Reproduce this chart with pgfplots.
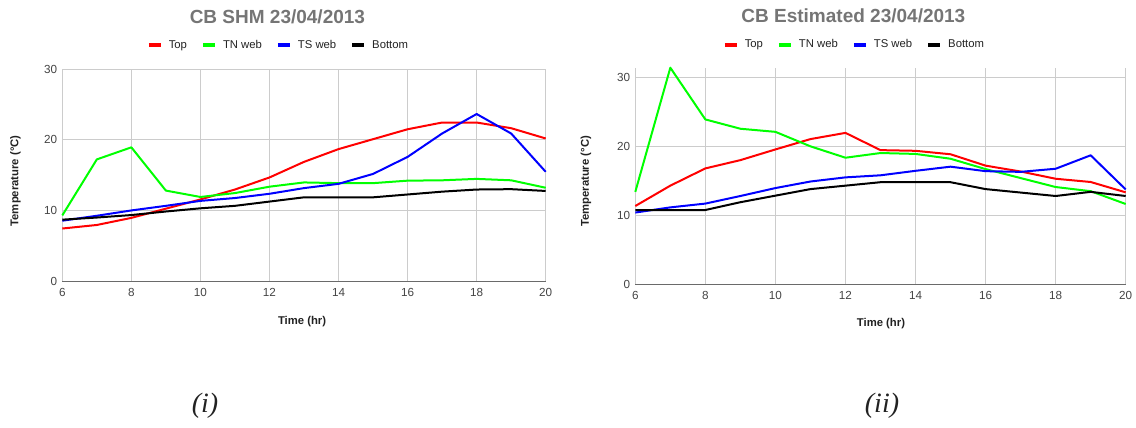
\documentclass[border=0pt]{standalone}
\usepackage{pgfplots}
\pgfplotsset{compat=1.18}
\usepackage{fontspec}
\setmainfont{Liberation Sans}
\newfontfamily\capfont{Liberation Serif}
\definecolor{titlegray}{HTML}{757575}
\definecolor{labgray}{HTML}{444444}
\definecolor{gridgray}{HTML}{CCCCCC}
\definecolor{axgray}{HTML}{6A6A6A}
\definecolor{txt}{HTML}{222222}
\definecolor{cred}{HTML}{FF0000}
\definecolor{cgreen}{HTML}{00FF00}
\definecolor{cblue}{HTML}{0000FF}
\definecolor{cblack}{HTML}{000000}

\pgfplotsset{
  gchart/.style={
    scale only axis,
    anchor=south west,
    clip=false,
    xmin=6, xmax=20, ymin=0,
    xtick={6,8,...,20}, ytick={0,10,20,30},
    grid=major,
    major grid style={draw=gridgray, line width=0.9pt},
    axis line style={draw=none},
    tick style={draw=none},
    extra y ticks={0}, extra y tick labels={},
    extra y tick style={major grid style={draw=axgray, line width=1.4pt}},
    /pgf/number format/assume math mode=true,
    tick label style={font=\fontsize{11.7}{13}\selectfont, text=labgray, inner sep=0pt},
    yticklabel style={anchor=east, xshift=-5pt},
    xticklabel style={anchor=center, yshift=-11pt},
    title style={font=\bfseries\fontsize{19}{22}\selectfont, text=titlegray, anchor=center},
    label style={font=\bfseries\fontsize{11.3}{13}\selectfont, text=txt},
    xlabel={Time (hr)}, ylabel={Temperature (°C)},
    legend columns=4,
    legend style={draw=none, fill=none, anchor=center,
      font=\fontsize{11.3}{13}\selectfont, text=txt,
      nodes={inner sep=0pt},
      /tikz/every odd column/.append style={column sep=6pt},
      /tikz/every even column/.append style={column sep=14pt}},
    legend image code/.code={\draw[#1, line width=4pt] (0pt,0pt) -- (12pt,0pt);},
    every axis plot/.append style={line width=2pt, line join=round, mark=none},
  }
}

\begin{document}
\begin{tikzpicture}
\path[use as bounding box] (0,0) rectangle (1136pt,428pt);

% (i) CB SHM
\begin{axis}[gchart,
  at={(62.3pt,146.3pt)}, width=483.4pt, height=212.7pt,
  ymax=30,
  title={CB SHM 23/04/2013},
  title style={at={(axis description cs:0.445,1.2163)}},
  legend style={at={(axis description cs:0.445,1.1125)}},
  ylabel style={at={(axis description cs:-0.097,0.474)}, anchor=center},
  xlabel style={at={(axis description cs:0.496,-0.186)}, anchor=center},
]
\addplot[cred] coordinates {(6,7.5) (7,8.0) (8,9.0) (9,10.3) (10,11.6) (11,13.0) (12,14.7) (13,16.9) (14,18.7) (15,20.1) (16,21.5) (17,22.45) (18,22.45) (19,21.65) (20,20.2)};
\addlegendentry{Top}
\addplot[cgreen] coordinates {(6,9.35) (7,17.25) (8,18.95) (9,12.85) (10,11.95) (11,12.5) (12,13.4) (13,14.0) (14,13.9) (15,13.9) (16,14.25) (17,14.3) (18,14.5) (19,14.3) (20,13.25)};
\addlegendentry{TN web}
\addplot[cblue] coordinates {(6,8.6) (7,9.3) (8,10.05) (9,10.7) (10,11.4) (11,11.8) (12,12.4) (13,13.2) (14,13.8) (15,15.2) (16,17.6) (17,20.9) (18,23.65) (19,20.9) (20,15.5)};
\addlegendentry{TS web}
\addplot[cblack] coordinates {(6,8.75) (7,9.05) (8,9.4) (9,9.9) (10,10.35) (11,10.7) (12,11.3) (13,11.9) (14,11.9) (15,11.9) (16,12.3) (17,12.7) (18,13.0) (19,13.05) (20,12.8)};
\addlegendentry{Bottom}
\end{axis}

% (ii) CB Estimated
\begin{axis}[gchart,
  at={(635.3pt,143.7pt)}, width=490.4pt, height=216.6pt,
  ymax=31.4,
  title={CB Estimated 23/04/2013},
  title style={at={(axis description cs:0.4447,1.211)}},
  legend style={at={(axis description cs:0.4447,1.107)}},
  ylabel style={at={(axis description cs:-0.1005,0.4746)}, anchor=center},
  xlabel style={at={(axis description cs:0.501,-0.183)}, anchor=center},
]
\addplot[cred] coordinates {(6,11.35) (7,14.3) (8,16.8) (9,18.0) (10,19.55) (11,21.05) (12,21.95) (13,19.45) (14,19.35) (15,18.85) (16,17.2) (17,16.35) (18,15.3) (19,14.83) (20,13.33)};
\addlegendentry{Top}
\addplot[cgreen] coordinates {(6,13.4) (7,31.4) (8,23.9) (9,22.55) (10,22.1) (11,20.0) (12,18.35) (13,19.03) (14,18.9) (15,18.2) (16,16.7) (17,15.4) (18,14.1) (19,13.5) (20,11.64)};
\addlegendentry{TN web}
\addplot[cblue] coordinates {(6,10.4) (7,11.15) (8,11.7) (9,12.8) (10,13.95) (11,14.9) (12,15.5) (13,15.8) (14,16.45) (15,17.05) (16,16.4) (17,16.3) (18,16.75) (19,18.7) (20,13.75)};
\addlegendentry{TS web}
\addplot[cblack] coordinates {(6,10.77) (7,10.77) (8,10.77) (9,11.9) (10,12.85) (11,13.8) (12,14.3) (13,14.8) (14,14.8) (15,14.8) (16,13.8) (17,13.3) (18,12.8) (19,13.4) (20,12.8)};
\addlegendentry{Bottom}
\end{axis}

\node[font=\capfont\itshape\fontsize{28}{32}\selectfont, text=txt] at (205pt,22pt) {(i)};
\node[font=\capfont\itshape\fontsize{28}{32}\selectfont, text=txt] at (882pt,22pt) {(ii)};
\end{tikzpicture}
\end{document}
